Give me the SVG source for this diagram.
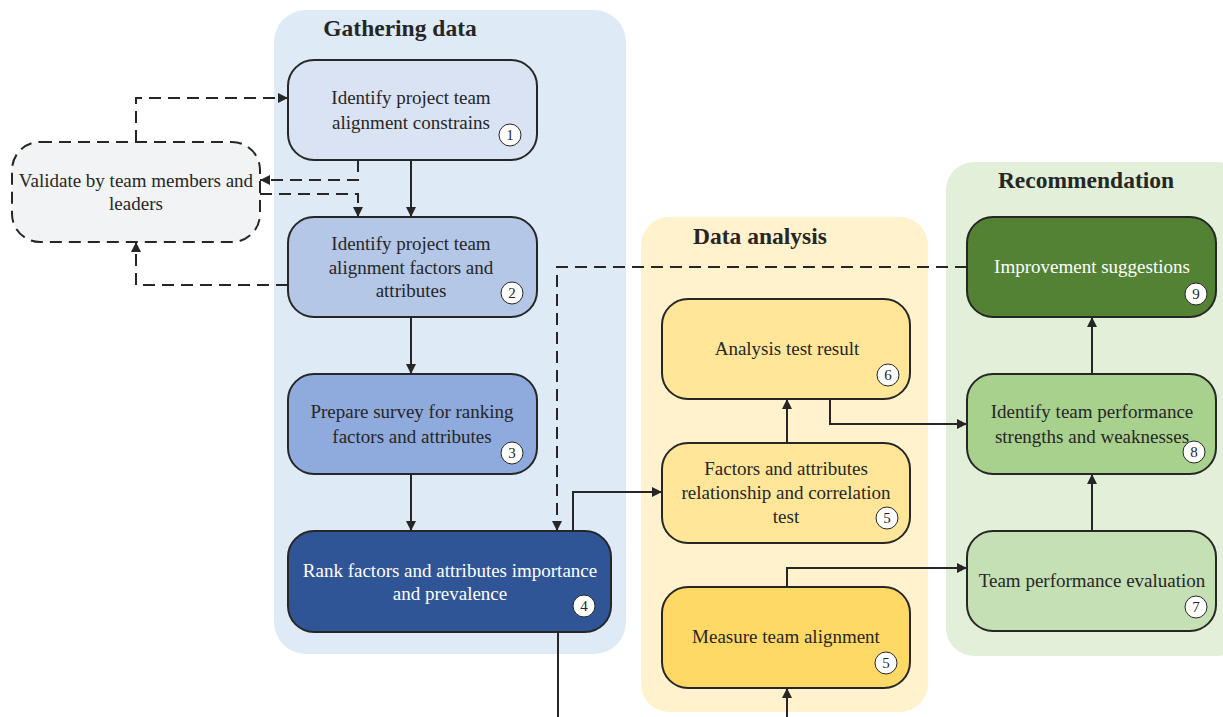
<svg xmlns="http://www.w3.org/2000/svg" width="1223" height="717" viewBox="0 0 1223 717">
<defs>
<marker id="ah" viewBox="0 0 10 10" refX="10" refY="5" markerWidth="11" markerHeight="10" markerUnits="userSpaceOnUse" orient="auto"><path d="M0,0 L10,5 L0,10 Z" fill="#262626"/></marker>
<style>
.panel{stroke:none}
.title{font-family:"Liberation Serif",serif;font-weight:bold;font-size:23.5px;fill:#262626;text-anchor:middle}
.node{stroke:#262626;stroke-width:2}
.t{font-family:"Liberation Serif",serif;font-size:19px;fill:#262626;text-anchor:middle}
.tw{font-family:"Liberation Serif",serif;font-size:19px;fill:#ffffff;text-anchor:middle}
.num{fill:#fff;stroke:#262626;stroke-width:1}
.nt{font-family:"Liberation Serif",serif;font-size:15px;fill:#262626;text-anchor:middle}
.e{fill:none;stroke:#262626;stroke-width:2;marker-end:url(#ah)}
.el{fill:none;stroke:#262626;stroke-width:2}
.d{fill:none;stroke:#262626;stroke-width:2;stroke-dasharray:12 7;marker-end:url(#ah)}
</style>
</defs>
<rect width="1223" height="717" fill="#ffffff"/>
<g id="panel-gathering">
<rect class="panel" x="274" y="10" width="352" height="644" rx="32" fill="#deebf6"/>
<text class="title" x="400" y="36">Gathering data</text>
</g>
<g id="panel-analysis">
<rect class="panel" x="641" y="217" width="287" height="495" rx="28" fill="#fff2cc"/>
<text class="title" x="760" y="244">Data analysis</text>
</g>
<g id="panel-recommendation">
<rect class="panel" x="946" y="162" width="300" height="494" rx="28" fill="#e2f0d9"/>
<text class="title" x="1086" y="188">Recommendation</text>
</g>
<g id="connectors">
<path class="e" d="M411,160 V217"/>
<path class="e" d="M411,317 V374"/>
<path class="e" d="M411,474 V531"/>
<path class="e" d="M573,531 V492 H662"/>
<path class="el" d="M558,632 V717"/>
<path class="e" d="M787,717 V688"/>
<path class="e" d="M787,443 V399"/>
<path class="e" d="M830,399 V424 H967"/>
<path class="e" d="M787,587 V568 H967"/>
<path class="e" d="M1092,531 V474"/>
<path class="e" d="M1092,374 V317"/>
<path class="d" d="M967,267 H557 V531"/>
<path class="d" d="M136,142 V98 H288"/>
<path class="d" d="M358,160 V180 H260"/>
<path class="d" d="M260,194 H358 V217"/>
<path class="d" d="M288,285 H136 V242"/>
</g>
<g id="node-validate">
<rect x="12" y="142" width="248" height="100" rx="28" fill="#f2f3f5" stroke="#262626" stroke-width="2" stroke-dasharray="12 7"/>
<text class="t" x="136" y="187">Validate by team members and</text>
<text class="t" x="136" y="210">leaders</text>
</g>
<g id="node-1">
<rect class="node" x="288" y="60" width="249" height="100" rx="26" fill="#dae3f3"/>
<text class="t" x="411" y="104">Identify project team</text>
<text class="t" x="411" y="129">alignment constrains</text>
<circle class="num" cx="510" cy="135" r="11"/><text class="nt" x="510" y="140">1</text>
</g>
<g id="node-2">
<rect class="node" x="288" y="217" width="249" height="100" rx="26" fill="#b4c7e7"/>
<text class="t" x="411" y="250">Identify project team</text>
<text class="t" x="411" y="274">alignment factors and</text>
<text class="t" x="411" y="297">attributes</text>
<circle class="num" cx="512" cy="293" r="11"/><text class="nt" x="512" y="298">2</text>
</g>
<g id="node-3">
<rect class="node" x="288" y="374" width="249" height="100" rx="26" fill="#8faadc"/>
<text class="t" x="412" y="418">Prepare survey for ranking</text>
<text class="t" x="412" y="443">factors and attributes</text>
<circle class="num" cx="512" cy="453" r="11"/><text class="nt" x="512" y="458">3</text>
</g>
<g id="node-4">
<rect class="node" x="288" y="531" width="323" height="101" rx="26" fill="#2f5597"/>
<text class="tw" x="450" y="577">Rank factors and attributes importance</text>
<text class="tw" x="450" y="600">and prevalence</text>
<circle class="num" cx="584" cy="606" r="11"/><text class="nt" x="584" y="611">4</text>
</g>
<g id="node-6">
<rect class="node" x="662" y="299" width="248" height="100" rx="26" fill="#ffe699"/>
<text class="t" x="787" y="355">Analysis test result</text>
<circle class="num" cx="888" cy="375" r="11"/><text class="nt" x="888" y="380">6</text>
</g>
<g id="node-5a">
<rect class="node" x="662" y="443" width="248" height="100" rx="26" fill="#ffe699"/>
<text class="t" x="786" y="475">Factors and attributes</text>
<text class="t" x="786" y="499">relationship and correlation</text>
<text class="t" x="786" y="523">test</text>
<circle class="num" cx="887" cy="518" r="11"/><text class="nt" x="887" y="523">5</text>
</g>
<g id="node-5b">
<rect class="node" x="662" y="587" width="248" height="101" rx="26" fill="#ffd966"/>
<text class="t" x="786" y="643">Measure team alignment</text>
<circle class="num" cx="886" cy="663" r="11"/><text class="nt" x="886" y="668">5</text>
</g>
<g id="node-9">
<rect class="node" x="967" y="217" width="249" height="100" rx="26" fill="#548235"/>
<text class="tw" x="1092" y="273">Improvement suggestions</text>
<circle class="num" cx="1196" cy="294" r="11"/><text class="nt" x="1196" y="299">9</text>
</g>
<g id="node-8">
<rect class="node" x="967" y="374" width="249" height="100" rx="26" fill="#a9d18e"/>
<text class="t" x="1092" y="418">Identify team performance</text>
<text class="t" x="1092" y="443">strengths and weaknesses</text>
<circle class="num" cx="1194" cy="452" r="11"/><text class="nt" x="1194" y="457">8</text>
</g>
<g id="node-7">
<rect class="node" x="967" y="531" width="249" height="100" rx="26" fill="#c5e0b4"/>
<text class="t" x="1092" y="587">Team performance evaluation</text>
<circle class="num" cx="1196" cy="607" r="11"/><text class="nt" x="1196" y="612">7</text>
</g>
</svg>
